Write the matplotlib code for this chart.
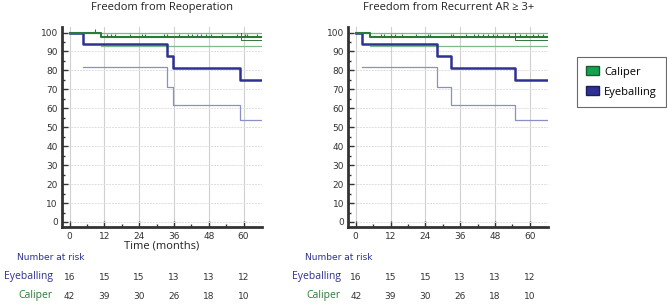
import matplotlib
matplotlib.use("Agg")
import matplotlib.pyplot as plt
from matplotlib.patches import Patch
from matplotlib.transforms import blended_transform_factory

# survival curves (months, %)
left_eye_t = [0, 4.8, 33.6, 35.7, 58.8, 66.4]
left_eye_s = [100, 93.75, 87.5, 81.25, 75, 75]
left_eye_lo = [82, 82, 71, 62, 54, 54]
left_cal_t = [0, 11, 66.4]
left_cal_s = [100, 97.6, 97.6]
left_cal_lo = [93, 93, 93]
left_cal_up2 = [59, 66.4]
left_censor = [8.6, 12.8, 14.2, 15.6, 21, 24.9, 26, 32.5, 33.6, 37.7, 40.8, 42.2,
               43.9, 45.3, 47, 48.8, 52.6, 57.8, 60.6, 61.2, 64.7]

right_eye_t = [0, 2, 28, 33, 55, 66.4]
right_eye_s = [100, 93.75, 87.5, 81.25, 75, 75]
right_eye_lo = [82, 82, 71, 62, 54, 54]
right_cal_t = [0, 5, 66.4]
right_cal_s = [100, 97.6, 97.6]
right_cal_lo = [93, 93, 93]
right_cal_up2 = [55, 66.4]
right_censor = [8.6, 9.9, 12.3, 13.4, 15.8, 20.9, 25, 25.7, 32.9, 33.6, 38, 40.8,
                42.1, 43.8, 45.5, 47.3, 48.6, 50.7, 52.7, 56.8, 58.6, 61, 63, 64.7]

risk_times = [0, 12, 24, 36, 48, 60]
risk_eye = [16, 15, 15, 13, 13, 12]
risk_cal = [42, 39, 30, 26, 18, 10]

titles = ["Freedom from Reoperation", "Freedom from Recurrent AR \u2265 3+"]

NAVY = "#2e3192"
NAVY_L = "#8a8fc8"
GREEN = "#2b7a3b"
GREEN_L = "#7fb98a"
TXT = "Open Sans"

fig = plt.figure(figsize=(6.67, 3.05), dpi=100)
axL = fig.add_axes([0.093, 0.256, 0.300, 0.656])
axR = fig.add_axes([0.522, 0.256, 0.300, 0.656])


def cal_step(t, s, tc):
    val = s[0]
    for ti, si in zip(t, s):
        if ti <= tc:
            val = si
    return val


panels = [
    (axL, left_eye_t, left_eye_s, left_eye_lo, left_cal_t, left_cal_s, left_cal_lo, left_cal_up2, left_censor),
    (axR, right_eye_t, right_eye_s, right_eye_lo, right_cal_t, right_cal_s, right_cal_lo, right_cal_up2, right_censor),
]

for i, (ax, et, es, elo, ct, cs, clo, cup2, cens) in enumerate(panels):
    ax.set_xlim(-2.6, 66.4)
    ax.set_ylim(-2.6, 103)
    ax.set_xticks(range(0, 61, 12))
    ax.set_xticks(range(6, 61, 12), minor=True)
    ax.set_yticks(range(0, 101, 10))
    ax.set_yticks(range(5, 100, 10), minor=True)
    ax.grid(True, axis="x", color="#d0d0d0", lw=0.8)
    ax.grid(True, axis="y", color="#dedede", lw=0.7, ls=(0, (2, 1)))
    for sp in ["top", "right"]:
        ax.spines[sp].set_visible(False)
    for sp in ["left", "bottom"]:
        ax.spines[sp].set_color("#333333")
        ax.spines[sp].set_linewidth(2)
    ax.tick_params(which="both", direction="in", colors="#333333", labelsize=6.5,
                   labelcolor="#333333", width=1)
    ax.tick_params(which="major", length=4)
    ax.tick_params(which="minor", length=2.5)
    ax.tick_params(axis="y", pad=3)

    # confidence bands (thin)
    ax.plot([0, 66.4], [100, 100], color=GREEN_L, lw=0.9)
    ax.step(et[1:], elo[1:], where="post", color=NAVY_L, lw=0.9)
    ax.step(ct[1:], clo[1:], where="post", color=GREEN_L, lw=0.9)
    ax.plot([cup2[0], cup2[0], cup2[1]], [100, 96.3, 96.3], color=GREEN, lw=0.7)

    # KM curves
    ax.step(et, es, where="post", color=NAVY, lw=1.8)
    ax.step(ct, cs, where="post", color=GREEN, lw=1.5)
    ys = [cal_step(ct, cs, c) for c in cens]
    ax.vlines(cens, ys, [y + 1.8 for y in ys], color=GREEN, lw=0.8)

    ax.set_title(titles[i], fontsize=8, family=TXT, color="#222222", pad=12)

axL.set_xlabel("Time (months)", fontsize=8, family=TXT, color="#222222", labelpad=0)

# number at risk rows
for ax, x_lab in [(axL, 0.0), (axR, 0.432)]:
    tr = blended_transform_factory(ax.transData, fig.transFigure)
    fig.text(x_lab + 0.025, 0.157, "Number at risk", fontsize=6.5, color=NAVY, va="center")
    fig.text(x_lab + 0.079, 0.095, "Eyeballing", fontsize=7.5, family=TXT, color=NAVY,
             va="center", ha="right")
    fig.text(x_lab + 0.079, 0.030, "Caliper", fontsize=7.5, family=TXT, color=GREEN,
             va="center", ha="right")
    for t, ne, nc in zip(risk_times, risk_eye, risk_cal):
        ax.text(t, 0.090, str(ne), transform=tr, fontsize=6.5, color="#333333",
                ha="center", va="center")
        ax.text(t, 0.028, str(nc), transform=tr, fontsize=6.5, color="#333333",
                ha="center", va="center")

handles = [Patch(facecolor="#12a350", edgecolor="#1a5c30", label="Caliper"),
           Patch(facecolor="#2e3192", edgecolor="#1b1d5c", label="Eyeballing")]
leg = fig.legend(handles=handles, loc="upper left", bbox_to_anchor=(0.865, 0.813),
                 frameon=True, fancybox=False, edgecolor="#444444",
                 prop={"family": TXT, "size": 8}, handlelength=1.1, handleheight=0.8,
                 handletextpad=0.5, borderpad=0.85, labelspacing=0.8, borderaxespad=0)
leg.get_frame().set_linewidth(0.8)

fig.savefig("out.png", dpi=100)
